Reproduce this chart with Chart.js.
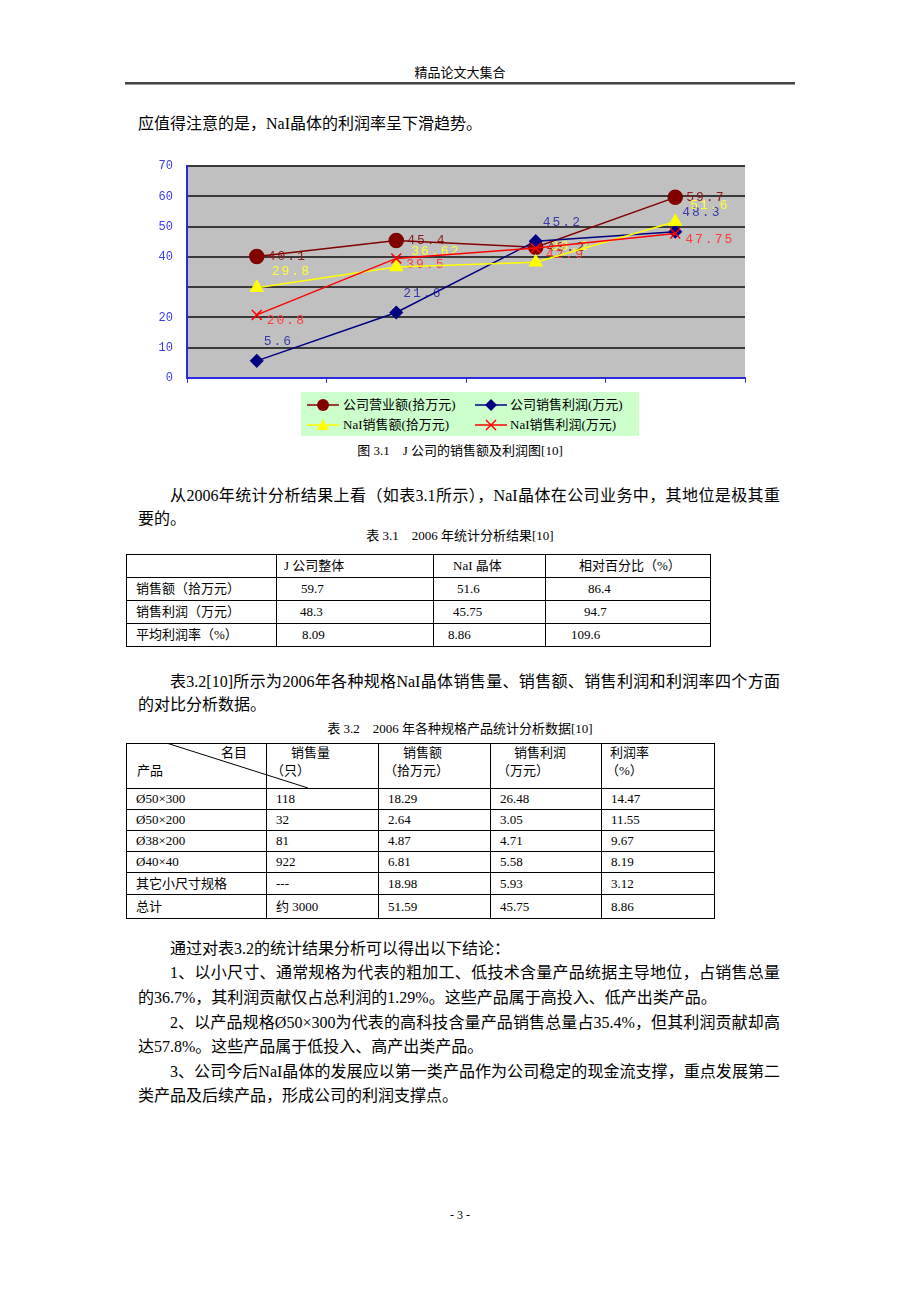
<!DOCTYPE html>
<html><head><meta charset="utf-8">
<script src="https://cdn.jsdelivr.net/npm/chart.js@4.4.1/dist/chart.umd.min.js"></script>
<style>
html,body{margin:0;padding:0;background:#fff;}
body{width:920px;height:1300px;position:relative;font-family:"Liberation Serif","Noto Sans CJK SC",serif;color:#000;}
.abs{position:absolute;}
.ln{position:absolute;height:24px;line-height:24px;font-size:16px;white-space:nowrap;}
.j{white-space:normal;text-align:justify;text-align-last:justify;overflow:hidden;}
.cap{position:absolute;font-size:13px;line-height:18px;height:18px;white-space:pre;text-align:center;}
table{position:absolute;border-collapse:collapse;table-layout:fixed;font-size:13px;}
td{border:1px solid #000;padding:0;vertical-align:middle;white-space:nowrap;overflow:hidden;line-height:18px;}
.lg{position:absolute;font-size:13px;line-height:16px;height:16px;white-space:nowrap;}
</style></head>
<body>
<div class="cap" style="left:360px;top:64px;width:200px;font-size:13px;">精品论文大集合</div>
<div class="abs" style="left:125px;top:82px;width:670px;height:2px;background:#444;"></div>
<div class="abs" style="left:125px;top:84px;width:670px;height:1px;background:#999;"></div>

<div class="ln" style="left:138px;top:112px;">应值得注意的是，NaI晶体的利润率呈下滑趋势。</div>

<canvas id="c" width="615" height="254" class="abs" style="left:140px;top:145px;width:615px;height:254px;"></canvas>

<div class="abs" style="left:301px;top:392px;width:338px;height:44px;background:#ccffcc;"></div>
<svg class="abs" style="left:306px;top:398px;" width="34" height="14"><line x1="1" y1="7" x2="33" y2="7" stroke="#800000" stroke-width="1.5"/><circle cx="17" cy="7" r="6" fill="#800000"/></svg>
<div class="lg" style="left:343px;top:397px;">公司营业额(拾万元)</div>
<svg class="abs" style="left:474px;top:398px;" width="34" height="14"><line x1="1" y1="7" x2="33" y2="7" stroke="#000080" stroke-width="1.5"/><polygon points="17,1 23,7 17,13 11,7" fill="#000080"/></svg>
<div class="lg" style="left:510px;top:397px;">公司销售利润(万元)</div>
<svg class="abs" style="left:306px;top:418px;" width="34" height="14"><line x1="1" y1="7" x2="33" y2="7" stroke="#ffff00" stroke-width="1.5"/><polygon points="17,1 23,12 11,12" fill="#ffff00"/></svg>
<div class="lg" style="left:343px;top:417px;">NaI销售额(拾万元)</div>
<svg class="abs" style="left:474px;top:418px;" width="34" height="14"><line x1="1" y1="7" x2="33" y2="7" stroke="#ff0000" stroke-width="1.5"/><line x1="12" y1="2" x2="22" y2="12" stroke="#ff0000" stroke-width="1.5"/><line x1="22" y1="2" x2="12" y2="12" stroke="#ff0000" stroke-width="1.5"/></svg>
<div class="lg" style="left:510px;top:417px;">NaI销售利润(万元)</div>

<div class="cap" style="left:310px;top:442px;width:300px;">图 3.1    J 公司的销售额及利润图[10]</div>

<div class="ln j" style="left:170px;top:484px;width:610px;">从2006年统计分析结果上看（如表3.1所示），NaI晶体在公司业务中，其地位是极其重</div>
<div class="ln" style="left:138px;top:507px;">要的。</div>

<div class="cap" style="left:310px;top:527px;width:300px;">表 3.1    2006 年统计分析结果[10]</div>
<table style="left:126px;top:554px;width:584px;">
<colgroup><col style="width:150px"><col style="width:157px"><col style="width:112px"><col style="width:165px"></colgroup>
<tr style="height:23px"><td></td><td style="padding-left:7px">J 公司整体</td><td style="padding-left:19px">NaI 晶体</td><td style="padding-left:33px">相对百分比（%）</td></tr>
<tr style="height:23px"><td style="padding-left:9px">销售额（拾万元）</td><td style="padding-left:24px">59.7</td><td style="padding-left:23px">51.6</td><td style="padding-left:42px">86.4</td></tr>
<tr style="height:23px"><td style="padding-left:9px">销售利润（万元）</td><td style="padding-left:23px">48.3</td><td style="padding-left:19px">45.75</td><td style="padding-left:38px">94.7</td></tr>
<tr style="height:23px"><td style="padding-left:9px">平均利润率（%）</td><td style="padding-left:25px">8.09</td><td style="padding-left:14px">8.86</td><td style="padding-left:25px">109.6</td></tr>
</table>

<div class="ln j" style="left:170px;top:670px;width:610px;">表3.2[10]所示为2006年各种规格NaI晶体销售量、销售额、销售利润和利润率四个方面</div>
<div class="ln" style="left:138px;top:693px;">的对比分析数据。</div>

<div class="cap" style="left:280px;top:720px;width:360px;">表 3.2    2006 年各种规格产品统计分析数据[10]</div>
<table style="left:126px;top:743px;width:588px;">
<colgroup><col style="width:140px"><col style="width:112px"><col style="width:112px"><col style="width:111px"><col style="width:113px"></colgroup>
<tr style="height:45px">
<td style="vertical-align:top;"><div style="padding-left:94px">名目</div><div style="padding-left:10px">产品</div></td>
<td style="vertical-align:top;"><div style="padding-left:24px">销售量</div><div style="padding-left:4px">（只）</div></td>
<td style="vertical-align:top;"><div style="padding-left:24px">销售额</div><div style="padding-left:5px">（拾万元）</div></td>
<td style="vertical-align:top;"><div style="padding-left:23px">销售利润</div><div style="padding-left:6px">（万元）</div></td>
<td style="vertical-align:top;"><div style="padding-left:8px">利润率</div><div style="padding-left:4px">（%）</div></td>
</tr>
<tr style="height:21px"><td style="padding-left:9px">Ø50×300</td><td style="padding-left:9px">118</td><td style="padding-left:9px">18.29</td><td style="padding-left:9px">26.48</td><td style="padding-left:9px">14.47</td></tr>
<tr style="height:21px"><td style="padding-left:9px">Ø50×200</td><td style="padding-left:9px">32</td><td style="padding-left:9px">2.64</td><td style="padding-left:9px">3.05</td><td style="padding-left:9px">11.55</td></tr>
<tr style="height:21px"><td style="padding-left:9px">Ø38×200</td><td style="padding-left:9px">81</td><td style="padding-left:9px">4.87</td><td style="padding-left:9px">4.71</td><td style="padding-left:9px">9.67</td></tr>
<tr style="height:21px"><td style="padding-left:9px">Ø40×40</td><td style="padding-left:9px">922</td><td style="padding-left:9px">6.81</td><td style="padding-left:9px">5.58</td><td style="padding-left:9px">8.19</td></tr>
<tr style="height:22px"><td style="padding-left:9px">其它小尺寸规格</td><td style="padding-left:9px">---</td><td style="padding-left:9px">18.98</td><td style="padding-left:9px">5.93</td><td style="padding-left:9px">3.12</td></tr>
<tr style="height:24px"><td style="padding-left:9px">总计</td><td style="padding-left:9px">约 3000</td><td style="padding-left:9px">51.59</td><td style="padding-left:9px">45.75</td><td style="padding-left:9px">8.86</td></tr>
</table>
<svg class="abs" style="left:126px;top:743px;" width="200" height="50"><line x1="42" y1="0.5" x2="182" y2="45" stroke="#000" stroke-width="1"/></svg>

<div class="ln" style="left:170px;top:937px;">通过对表3.2的统计结果分析可以得出以下结论：</div>
<div class="ln j" style="left:170px;top:961px;width:610px;">1、以小尺寸、通常规格为代表的粗加工、低技术含量产品统据主导地位，占销售总量</div>
<div class="ln" style="left:138px;top:986px;">的36.7%，其利润贡献仅占总利润的1.29%。这些产品属于高投入、低产出类产品。</div>
<div class="ln j" style="left:170px;top:1011px;width:610px;">2、以产品规格Ø50×300为代表的高科技含量产品销售总量占35.4%，但其利润贡献却高</div>
<div class="ln" style="left:138px;top:1035px;">达57.8%。这些产品属于低投入、高产出类产品。</div>
<div class="ln j" style="left:170px;top:1060px;width:610px;">3、公司今后NaI晶体的发展应以第一类产品作为公司稳定的现金流支撑，重点发展第二</div>
<div class="ln" style="left:138px;top:1084px;">类产品及后续产品，形成公司的利润支撑点。</div>

<div class="cap" style="left:410px;top:1206px;width:100px;font-size:12px;">- 3 -</div>

<script>
const categories = ['1', '2', '3', '4'];
const revenue = [40.1, 45.4, 43.2, 59.7];      // 公司营业额(拾万元)
const profit = [5.6, 21.6, 45.2, 48.3];        // 公司销售利润(万元)
const naiSales = [29.8, 36.62, 38.2, 51.6];    // NaI销售额(拾万元)
const naiProfit = [20.8, 39.5, 42.9, 47.75];   // NaI销售利润(万元)
const yTickLabels = [0, 10, 20, 40, 50, 60, 70];

const labelStyle = [
  {color:'#8b1a1a', dx:11, dy:0},
  {color:'#3a3aa8', dx:7, dy:-19},
  {color:'#ffff33', dx:15, dy:-16},
  {color:'#ff3a3a', dx:10, dy:6}
];

const bgPlugin = {
  id:'bg',
  beforeDraw(chart){
    const {ctx, chartArea:a} = chart;
    ctx.save();
    ctx.fillStyle = '#c0c0c0';
    ctx.fillRect(a.left, a.top, a.right-a.left, a.bottom-a.top);
    ctx.restore();
  }
};
const labelPlugin = {
  id:'vlabels',
  beforeDatasetsDraw(chart){
    const ctx = chart.ctx;
    ctx.save();
    ctx.font = '13px "Liberation Mono", monospace';
    ctx.textBaseline = 'middle';
    chart.data.datasets.forEach((ds, i) => {
      const meta = chart.getDatasetMeta(i);
      const st = labelStyle[i];
      ctx.fillStyle = st.color;
      meta.data.forEach((pt, j) => {
        const txt = String(ds.data[j]);
        let x = pt.x + st.dx;
        const y = pt.y + st.dy;
        for (const ch of txt) {
          ctx.fillText(ch, x, y);
          x += ctx.measureText(ch).width + 2;
        }
      });
    });
    ctx.restore();
  }
};

new Chart(document.getElementById('c'), {
  type:'line',
  data:{
    labels: categories,
    datasets:[
      {label:'公司营业额(拾万元)', data:revenue, borderColor:'#800000', backgroundColor:'#800000', borderWidth:1.5, pointStyle:'circle', pointRadius:7, pointBackgroundColor:'#800000', pointBorderColor:'#800000', order:4},
      {label:'公司销售利润(万元)', data:profit, borderColor:'#000080', backgroundColor:'#000080', borderWidth:1.5, pointStyle:'rectRot', pointRadius:6, pointBackgroundColor:'#000080', pointBorderColor:'#000080', order:3},
      {label:'NaI销售额(拾万元)', data:naiSales, borderColor:'#ffff00', backgroundColor:'#ffff00', borderWidth:1.5, pointStyle:'triangle', pointRadius:7, pointBackgroundColor:'#ffff00', pointBorderColor:'#ffff00', order:2},
      {label:'NaI销售利润(万元)', data:naiProfit, borderColor:'#ff0000', backgroundColor:'#ff0000', borderWidth:1.5, pointStyle:'crossRot', pointRadius:7, pointBorderColor:'#ff0000', pointBorderWidth:1.5, order:1}
    ]
  },
  options:{
    responsive:false,
    animation:false,
    devicePixelRatio:1,
    layout:{padding:{top:10, right:10, left:0, bottom:0}},
    plugins:{legend:{display:false}, tooltip:{enabled:false}},
    scales:{
      x:{
        offset:true,
        afterFit(s){ s.height = 8; },
        ticks:{display:false},
        grid:{offset:true, drawOnChartArea:false, drawTicks:true, tickLength:5, color:'#2a2ae0', lineWidth:1},
        border:{color:'#2a2ae0', width:2}
      },
      y:{
        min:0, max:70,
        afterFit(s){ s.width = 47; },
        ticks:{stepSize:10, padding:14, color:'#3a3af0', font:{family:'"Liberation Mono", monospace', size:12},
          callback(v){ return yTickLabels.includes(v) ? String(v) : ''; }},
        grid:{drawTicks:false, lineWidth:2, color(c){ return c.tick && c.tick.value === 0 ? 'rgba(0,0,0,0)' : '#3a3a3a'; }},
        border:{color:'#2a2ae0', width:2}
      }
    }
  },
  plugins:[bgPlugin, labelPlugin]
});
</script>
</body></html>
